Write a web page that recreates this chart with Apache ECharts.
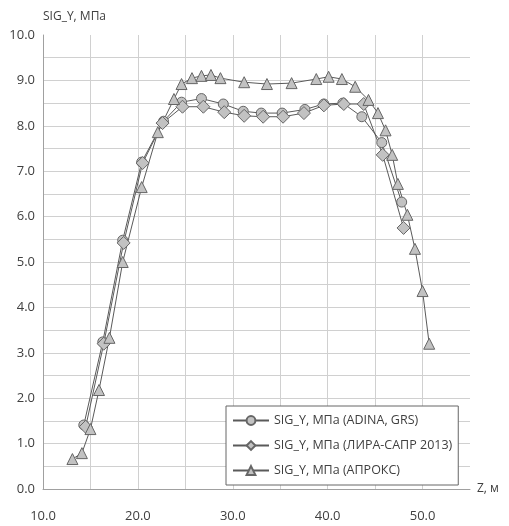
<!DOCTYPE html>
<html>
<head>
<meta charset="utf-8">
<script src="https://cdn.jsdelivr.net/npm/echarts@6/dist/echarts.min.js"></script>
<style>html,body{margin:0;padding:0;background:#fff;}#c{width:509px;height:526px;}</style>
</head>
<body>
<div id="c"></div>
<script>
var yTitle = 'SIG_Y, МПа';
var xTitle = 'Z, м';
var seriesNames = ['SIG_Y, МПа (ADINA, GRS)', 'SIG_Y, МПа (ЛИРА-САПР 2013)', 'SIG_Y, МПа (АПРОКС)'];

var adinaZ = [14.3, 16.3, 18.4, 20.4, 22.7, 24.6, 26.7, 29.0, 31.1, 33.0, 35.2, 37.6, 39.6, 41.6, 43.6, 45.7, 47.8];
var adinaS = [1.41, 3.24, 5.48, 7.20, 8.10, 8.52, 8.60, 8.48, 8.32, 8.28, 8.28, 8.36, 8.48, 8.50, 8.20, 7.63, 6.32];

var liraZ = [14.5, 16.4, 18.5, 20.5, 22.6, 24.7, 26.9, 29.1, 31.2, 33.2, 35.3, 37.5, 39.6, 41.7, 43.8, 45.8, 48.0];
var liraS = [1.37, 3.20, 5.42, 7.18, 8.06, 8.42, 8.42, 8.30, 8.22, 8.20, 8.20, 8.28, 8.45, 8.48, 8.48, 7.36, 5.75];

var aproksZ = [13.1, 14.1, 15.0, 15.9, 17.0, 18.4, 20.4, 22.1, 23.8, 24.6, 25.7, 26.7, 27.7, 28.7, 31.2, 33.6, 36.2, 38.8, 40.1, 41.5, 42.9, 44.3, 45.3, 46.1, 46.8, 47.4, 48.4, 49.2, 50.0, 50.7];
var aproksS = [0.66, 0.79, 1.32, 2.18, 3.33, 5.00, 6.65, 7.86, 8.59, 8.92, 9.05, 9.10, 9.12, 9.05, 8.96, 8.92, 8.94, 9.03, 9.08, 9.03, 8.86, 8.57, 8.28, 7.90, 7.36, 6.72, 6.04, 5.29, 4.36, 3.20];

function pairs(xs, ys) { return xs.map(function (x, i) { return [x, ys[i]]; }); }

var font = 'Open Sans';
var lineCol = '#5a5a5a';
var fillCol = '#c2c2c2';

function mk(name, xs, ys, symbol, size) {
  return {
    name: name, type: 'line', data: pairs(xs, ys),
    symbol: symbol, symbolSize: size, showAllSymbol: true,
    lineStyle: { color: lineCol, width: 1 },
    itemStyle: { color: fillCol, borderColor: '#666', borderWidth: 1 },
    emphasis: { disabled: true }, animation: false
  };
}

var chart = echarts.init(document.getElementById('c'));
chart.setOption({
  animation: false,
  backgroundColor: '#fff',
  grid: { left: 43, right: 39, top: 35, bottom: 37 },
  legend: {
    orient: 'vertical', left: 226, top: 406,
    padding: [8, 6, 8, 6],
    itemGap: 12, itemWidth: 36, itemHeight: 11,
    borderColor: '#666', borderWidth: 1, backgroundColor: '#fff',
    textStyle: { fontFamily: font, fontSize: 12.5, color: '#404040' },
    data: seriesNames
  },
  xAxis: {
    type: 'value', min: 10, max: 55, interval: 5,
    name: xTitle, nameLocation: 'end', nameGap: 7,
    nameTextStyle: { fontFamily: font, fontSize: 12, color: '#404040', verticalAlign: 'middle' },
    axisLine: { show: true, lineStyle: { color: '#a0a0a0' } },
    axisTick: { show: false },
    axisLabel: {
      margin: 21, fontFamily: font, fontSize: 13, color: '#404040',
      formatter: function (v) { return (v % 10 === 0 && v < 55) ? v.toFixed(1) : ''; }
    },
    splitLine: { show: true, showMaxLine: false, lineStyle: { color: '#d0d0d0', width: 1 } }
  },
  yAxis: {
    type: 'value', min: 0, max: 10, interval: 0.5,
    name: yTitle, nameLocation: 'end', nameGap: 12,
    nameTextStyle: { fontFamily: font, fontSize: 12, color: '#404040', align: 'left' },
    axisLine: { show: true, lineStyle: { color: '#a0a0a0' } },
    axisTick: { show: false },
    axisLabel: {
      margin: 8, fontFamily: font, fontSize: 13, color: '#404040',
      formatter: function (v) { return Math.abs(v - Math.round(v)) < 1e-9 ? v.toFixed(1) : ''; }
    },
    splitLine: { show: true, showMaxLine: false, lineStyle: { color: '#d0d0d0', width: 1 } }
  },
  series: [
    mk(seriesNames[0], adinaZ, adinaS, 'circle', 10),
    mk(seriesNames[1], liraZ, liraS, 'diamond', 13),
    mk(seriesNames[2], aproksZ, aproksS, 'triangle', 11)
  ]
});
</script>
</body>
</html>
